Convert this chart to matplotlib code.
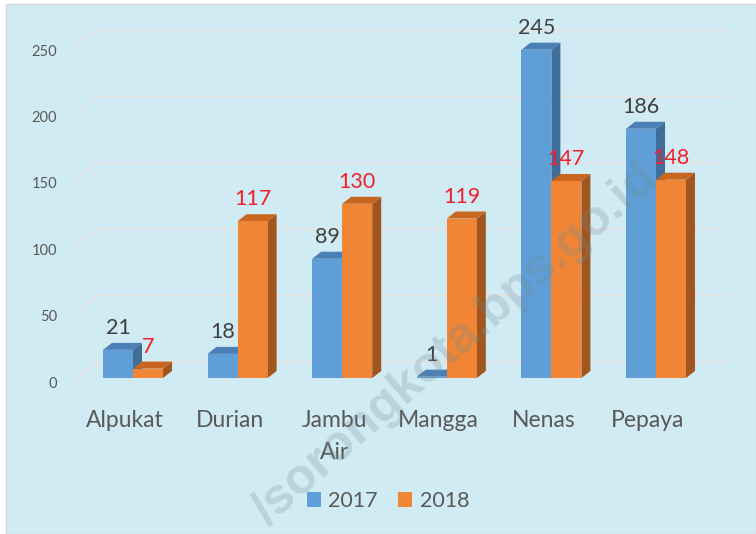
import matplotlib
matplotlib.use("Agg")
import matplotlib.pyplot as plt
from matplotlib.patches import Polygon, Rectangle, Patch
import numpy as np

# ---------------- data ----------------
categories = ["Alpukat", "Durian", "Jambu\nAir", "Mangga", "Nenas", "Pepaya"]
values_2017 = [21, 18, 89, 1, 245, 186]
values_2018 = [7, 117, 130, 119, 147, 148]
series_names = ["2017", "2018"]
y_ticks = [0, 50, 100, 150, 200, 250]

# ---------------- style ----------------
BG = "#d0ebf3"
BLUE = ("#5f9ed6", "#4a80b6", "#3e6e99")      # front, top, side
ORANGE = ("#ef8535", "#c8661f", "#a0561e")
GRID = "#e6e1dc"
TXT = "#595959"
plt.rcParams["font.family"] = ["Lato", "DejaVu Sans"]

W, H = 756, 534
fig = plt.figure(figsize=(W / 100, H / 100), dpi=100)
fig.patch.set_facecolor("white")
bgrect = Rectangle((6 / W, 0), 1 - 6 / W, 1 - 4 / H, transform=fig.transFigure,
                   facecolor=BG, edgecolor="#d8d8d8", lw=1, zorder=-10)
fig.patches.append(bgrect)

# axes placement in pixels
L, R, T, B = 60, 740, 20, 400
ax = fig.add_axes([L / W, (H - B) / H, (R - L) / W, (B - T) / H])
ax.set_zorder(1)
ax.set_facecolor("none")
for s in ax.spines.values():
    s.set_visible(False)

x0_px, xstep_px = 133, 104.6
base_px, yscale_px = 378, 1.34
ax.set_xlim((L - x0_px) / xstep_px, (R - x0_px) / xstep_px)
ax.set_ylim((base_px - B) / yscale_px, (base_px - T) / yscale_px)

def dxu(px):
    return px / xstep_px

def dyu(px):
    return px / yscale_px

x = np.arange(len(categories))
bw = dxu(30)
ddx, ddy = dxu(9), dyu(7)

# ---------------- gridlines (back wall with perspective) ----------------
xf, xb, xe = dxu(72 - x0_px), dxu(97 - x0_px), dxu(727 - x0_px)
for v in y_ticks:
    yf = dyu(v * 1.328 - 4)
    yb = dyu(v * 1.328 + 16)
    ax.plot([xf, xb, xe], [yf, yb, yb], color=GRID, lw=1.1, zorder=1, solid_joinstyle="miter")

# ---------------- 3D bars ----------------
def bar3d(xl, h, cols, z):
    front, top, side = cols
    ax.bar(xl, h, width=bw, align="edge", color=front, zorder=z + 0.2, linewidth=0)
    ax.add_patch(Polygon([(xl + bw, 0), (xl + bw + ddx, ddy), (xl + bw + ddx, h + ddy), (xl + bw, h)],
                         closed=True, facecolor=side, edgecolor="none", zorder=z))
    ax.add_patch(Polygon([(xl, h), (xl + ddx, h + ddy), (xl + bw + ddx, h + ddy), (xl + bw, h)],
                         closed=True, facecolor=top, edgecolor="none", zorder=z + 0.1))

lab_off = 22 * 72 / 100
for i in range(len(categories)):
    bar3d(x[i] - bw, values_2017[i], BLUE, 2 + i)
    bar3d(x[i], values_2018[i], ORANGE, 2.5 + i)
    ax.annotate(str(values_2017[i]), (x[i] - bw / 2, values_2017[i]), xytext=(0, lab_off),
                textcoords="offset points", ha="center", va="center", fontsize=15.5,
                color="#404040", zorder=20)
    ax.annotate(str(values_2018[i]), (x[i] + bw / 2, values_2018[i]), xytext=(0, lab_off),
                textcoords="offset points", ha="center", va="center", fontsize=15.5,
                color="#f0202a", zorder=20)

# ---------------- axes ticks ----------------
ax.set_yticks([dyu(v * 1.328 - 4) for v in y_ticks], [str(v) for v in y_ticks])
ax.tick_params(axis="y", length=0, pad=2, labelsize=10.5, labelcolor=TXT)
ax.set_xticks(x - dxu(8), categories)
ax.tick_params(axis="x", length=0, pad=7, labelsize=16.5, labelcolor=TXT)
for lbl in ax.get_xticklabels():
    lbl.set_linespacing(1.65)

# ---------------- legend ----------------
handles = [Patch(facecolor=BLUE[0], edgecolor="none"), Patch(facecolor=ORANGE[0], edgecolor="none")]
fig.legend(handles, series_names, loc="center", bbox_to_anchor=(388 / W, 1 - 501 / H),
           ncol=2, frameon=False, fontsize=15.5, labelcolor=TXT, handlelength=0.65,
           handleheight=0.65, handletextpad=0.35, columnspacing=0.95)

# ---------------- watermark ----------------
fig.text(660 / W, 1 - 182 / H, "/sorongkota.bps.go.id", rotation=41.3,
         rotation_mode="anchor", ha="right", va="baseline", fontsize=36,
         family=["Liberation Sans", "DejaVu Sans"], weight="bold", color="#6f8a94",
         alpha=0.25, zorder=30)

fig.savefig("out.png", dpi=100, facecolor=fig.get_facecolor())
